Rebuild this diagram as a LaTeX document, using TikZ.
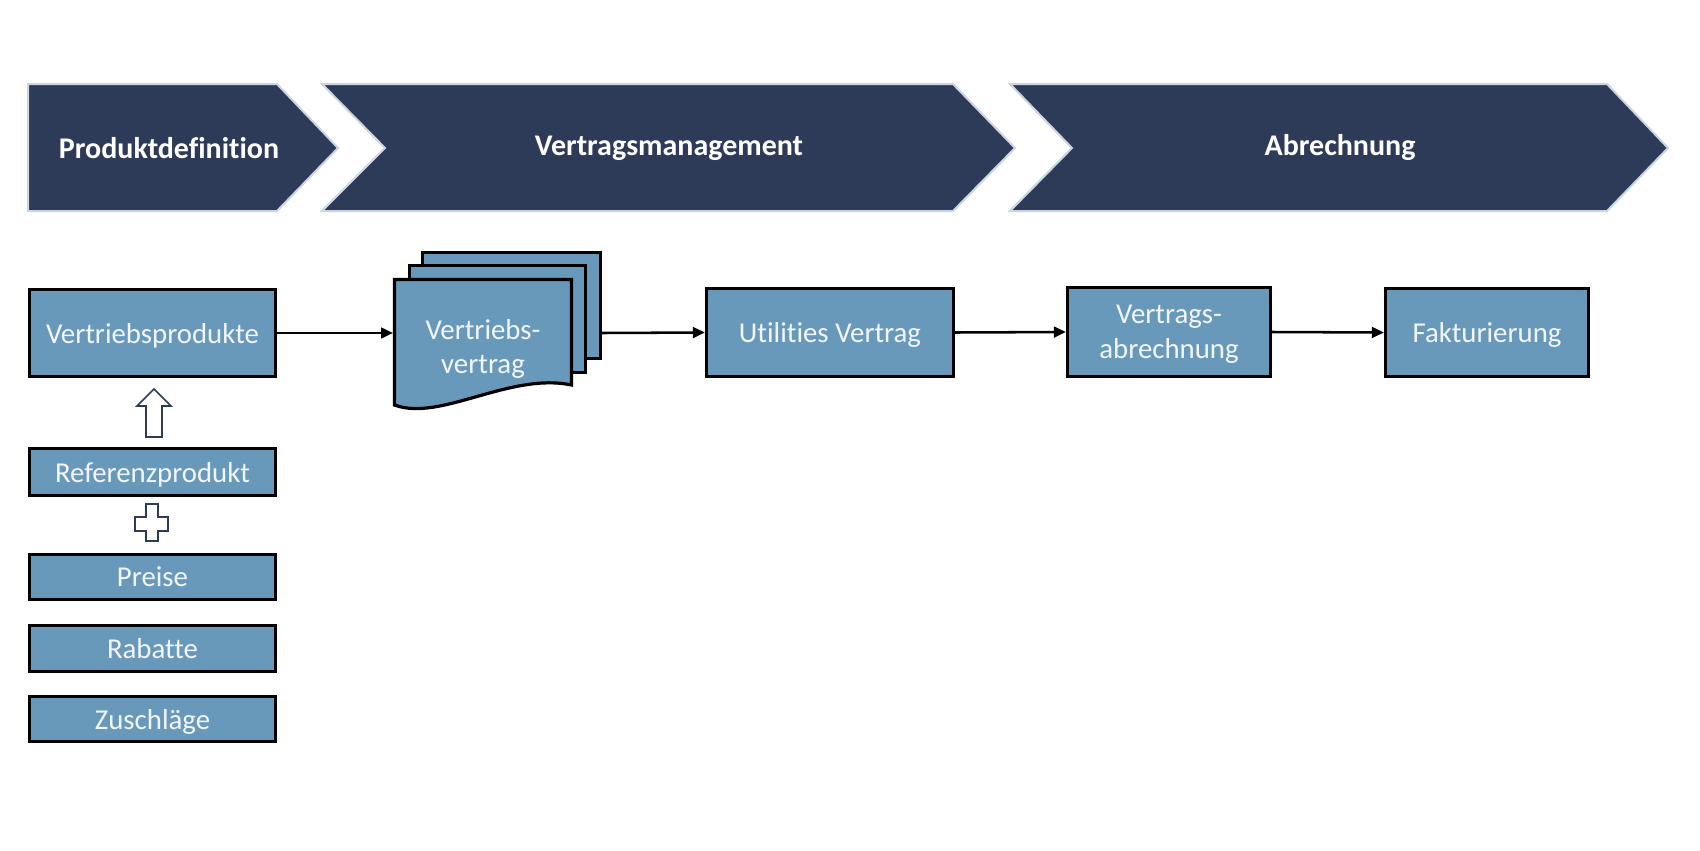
\documentclass[tikz,border=0pt]{standalone}
\usepackage{fontspec}
\setmainfont{Carlito}[Ligatures=NoCommon]
\usetikzlibrary{arrows.meta}
\definecolor{navy}{HTML}{2E3B58}
\definecolor{edgeblue}{HTML}{C8D5E5}
\definecolor{boxfill}{HTML}{6899BB}
\definecolor{txt}{HTML}{F2F6FA}
\begin{document}
\begin{tikzpicture}[x=0.75pt,y=-0.75pt,
  box/.style={draw=black, line width=2.4pt, fill=boxfill, text=txt, inner sep=0pt,
    text depth=0pt, font=\fontsize{21.6}{26.5}\selectfont, align=center},
  chev/.style={fill=navy, draw=edgeblue, line width=1.5pt, line join=miter},
  chevtext/.style={text=white, font=\bfseries\fontsize{22.5}{26}\selectfont},
  conn/.style={line width=1.9pt, -{Triangle[length=9pt,width=8pt]}},
  sheet/.style={draw=black, line width=2.4pt, fill=boxfill, line join=miter},
  hollow/.style={draw=navy, line width=1.3pt, fill=white, line join=miter}]
\useasboundingbox[fill=white] (0,0) rectangle (1700,850);
% chevrons
\path[chev] (28,84) -- (277,84) -- (338,148) -- (277,211) -- (28,211) -- cycle;
\path[chev] (322,84) -- (953,84) -- (1015,148) -- (953,211) -- (322,211) -- (385,148) -- cycle;
\path[chev] (1010,84) -- (1607,84) -- (1668,148) -- (1607,211) -- (1010,211) -- (1072,148) -- cycle;
\node[chevtext] (t1) at (169,148) {Produktdefinition};
\node[chevtext] (t2) at (669,148) {Vertragsmanagement};
\node[chevtext] (t3) at (1340,148) {Abrechnung};
% left column
\node[box, minimum width=246*0.75pt, minimum height=87*0.75pt] (vp) at (152.5,333) {Vertriebsprodukte};
\node[box, minimum width=246*0.75pt, minimum height=47*0.75pt] (ref) at (152.5,472) {Referenzprodukt};
\node[box, minimum width=246*0.75pt, minimum height=45*0.75pt] (pr) at (152.5,577) {Preise};
\node[box, minimum width=246*0.75pt, minimum height=46*0.75pt] (ra) at (152.5,648.5) {Rabatte};
\node[box, minimum width=246*0.75pt, minimum height=45*0.75pt] (zu) at (152.5,719) {Zuschläge};
\draw[hollow] (154,389) -- (171,406) -- (162,406) -- (162,437) -- (146,437) -- (146,406) -- (137,406) -- cycle;
\draw[hollow] (146,504) -- (158,504) -- (158,517) -- (168,517) -- (168,531) -- (158,531) -- (158,541) -- (146,541) -- (146,531) -- (135,531) -- (135,517) -- (146,517) -- cycle;
% document stack
\path[sheet] (422.5,252.5) rectangle (600.5,358.5);
\path[sheet] (409.5,265.5) rectangle (585.5,372.5);
\path[sheet] (394.5,279.5) -- (571.5,279.5) -- (571.5,385) .. controls (510,372) and (440,422) .. (394.5,405) -- cycle;
\node[inner sep=0pt, outer sep=0pt, minimum width=209*0.75pt, minimum height=100*0.75pt] (docstack) at (497.5,333) {};
\node[text=txt, inner sep=0pt, text depth=0pt, font=\fontsize{21.6}{25.5}\selectfont, align=center] (dt) at (483,346) {Vertriebs-\\vertrag};
% process boxes
\node[box, minimum width=247*0.75pt, minimum height=88*0.75pt] (uv) at (830,332.5) {Utilities Vertrag};
\node[box, minimum width=203*0.75pt, minimum height=89*0.75pt] (va) at (1169,332) {Vertrags-\\abrechnung};
\node[box, minimum width=203*0.75pt, minimum height=88*0.75pt] (fk) at (1487,332.5) {Fakturierung};
% connectors
\draw[conn] (vp.east) -- (docstack.west);
\draw[conn] (docstack.east) -- (uv.west);
\draw[conn] (uv.east) -- (va.west);
\draw[conn] (va.east) -- (fk.west);
\end{tikzpicture}
\end{document}
